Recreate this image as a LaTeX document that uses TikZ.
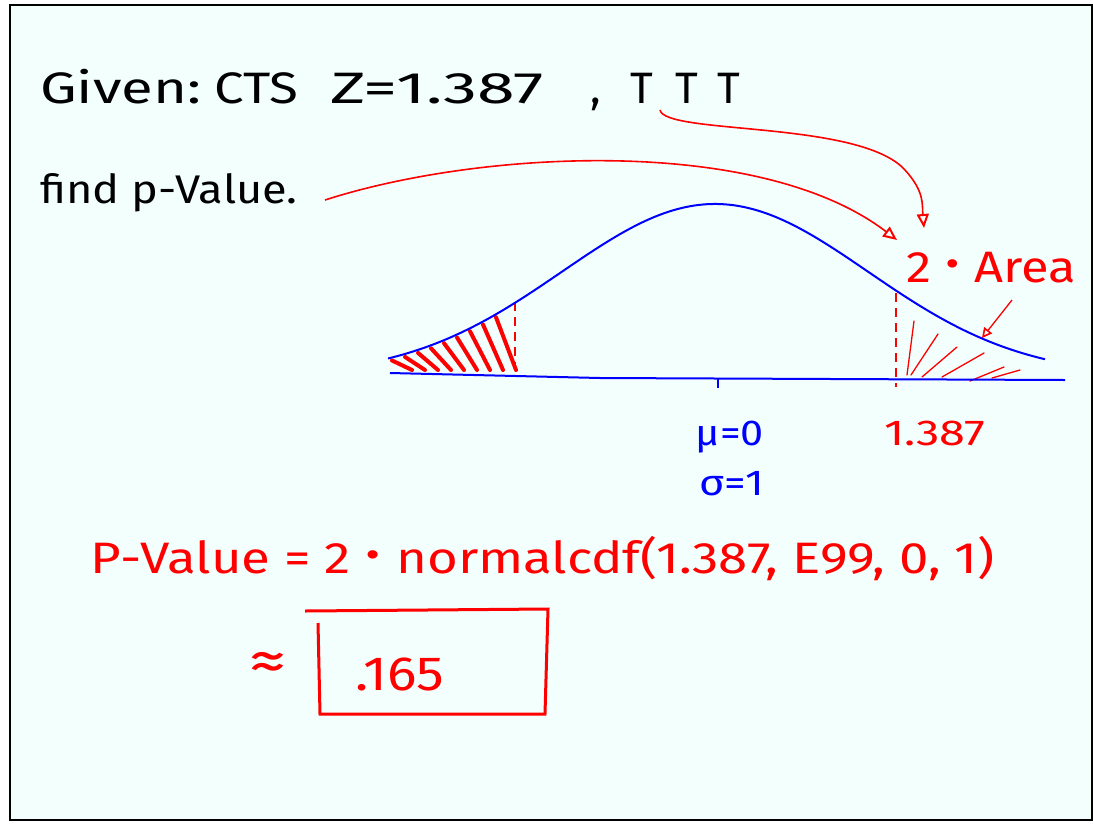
\documentclass[tikz,border=0pt]{standalone}
\usepackage{fontspec}
\setmainfont{Fira Sans}
\usetikzlibrary{arrows.meta}
\definecolor{board}{HTML}{F2FFFD}
\definecolor{pen}{HTML}{FF0000}
\definecolor{bpen}{HTML}{0000FF}
\newcommand{\wide}[2]{\scalebox{#1}[1]{#2}}
\tikzset{
  blk/.style={text=black, inner sep=0pt, font=\fontsize{44}{48}\selectfont},
  rtxt/.style={text=pen, inner sep=0pt, font=\fontsize{44}{48}\selectfont},
  btxt/.style={text=bpen, inner sep=0pt, font=\fontsize{36}{40}\selectfont},
  rarrow/.style={draw=pen, line width=1.6pt, -{Triangle[open,length=14pt,width=12pt,line width=2pt]}},
  hatchL/.style={draw=pen, line width=4pt, line cap=round},
  hatchR/.style={draw=pen, line width=1.3pt, line cap=round},
  bcurve/.style={draw=bpen, line width=2pt},
  dashv/.style={draw=pen, line width=2.8pt, dash pattern=on 9pt off 6pt},
}
\begin{document}
\begin{tikzpicture}[x=1pt,y=-1pt]
\useasboundingbox (0,0) rectangle (1093,823);
\fill[white] (0,0) rectangle (1093,823);
\fill[board] (10,5) rectangle (1092,820);
\draw[black, line width=2pt] (10,5) rectangle (1092,820);

% title text
\node[blk, anchor=base west] (given) at (40,103) {\wide{1.32}{Given:}};
\node[blk, anchor=base west] (cts) at (214,103) {\wide{1.2}{CTS}};
\node[blk, anchor=base west] (z) at (330,103) {\wide{1.55}{Z=1.387}};
\node[blk, anchor=base west] (comma) at (590,103) {,};
\node[blk, anchor=base west] (t1) at (630,103) {T};
\node[blk, anchor=base west] (t2) at (675,103) {T};
\node[blk, anchor=base west] (t3) at (717,103) {T};
\node[blk, anchor=base west, font=\fontsize{40}{44}\selectfont] (find) at (40,203) {\wide{1.13}{find p-Value.}};

% 2 Area label
\node[rtxt, anchor=base west] (area) at (906,282) {\wide{1.15}{2 {\fontsize{60}{60}\selectfont ·} Area}};

% arrows
\coordinate (a1s) at (325,200);
\coordinate (a1e) at (897,240);
\draw[rarrow] (a1s) .. controls (480,150) and (760,135) .. (a1e);
\coordinate (a2s) at (660,110);
\coordinate (a2e) at (924,228);
\draw[rarrow] (a2s) .. controls (665,135) and (860,120) .. (905,170) .. controls (925,192) and (922,205) .. (a2e);
\coordinate (a3s) at (1012,300);
\coordinate (a3e) at (982,338);
\draw[rarrow, line width=1.3pt, -{Triangle[open,length=10pt,width=10pt,line width=1.6pt]}] (a3s) -- (a3e);

% hatching left
\foreach \x in {392,405,...,500} {
  \pgfmathsetmacro\yy{376-172*exp(-((\x-715)/153)^2/2)+3}
  \draw[hatchL] (\x,\yy) -- (\x+20,370);
}
\draw[dashv] (515,302) -- (515,372);

% hatching right
\draw[hatchR] (907,375) -- (914,321);
\draw[hatchR] (911,375) -- (938,334);
\draw[hatchR] (922,377) -- (957,347);
\draw[hatchR] (942,377) -- (984,353);
\draw[hatchR] (970,381) -- (1004,367);
\draw[hatchR] (992,378) -- (1020,370);
\draw[dashv] (896,293) -- (896,387);

% normal curve and axis
\draw[bcurve] plot[domain=388:1045, samples=120, smooth] (\x, {376-172*exp(-((\x-715)/153)^2/2)});
\draw[bcurve] (390,373) -- (600,378) -- (1065,380);
\coordinate (tick) at (718,378);
\draw[bcurve, line width=2.5pt] (tick) -- ++(0,10);

% axis labels
\node[btxt, anchor=base] (mu) at (730,445) {\wide{1.15}{μ=0}};
\node[btxt, anchor=base] (sigma) at (732,495) {\wide{1.2}{σ=1}};
\node[rtxt, anchor=base, font=\fontsize{36}{40}\selectfont] (zval) at (935,445) {\wide{1.3}{1.387}};

% formula
\node[rtxt, anchor=base west] (formula) at (90,573) {\wide{1.2}{P-Value = 2 {\fontsize{60}{60}\selectfont ·} normalcdf(1.387, E99, 0, 1)}};

% answer box
\node[rtxt, anchor=center, font=\fontsize{58}{58}\selectfont] (approx) at (268,666) {\wide{1.3}{≈}};
\node[rtxt, anchor=base, font=\fontsize{48}{52}\selectfont] (ans) at (400,690) {\wide{1.15}{.165}};
\draw[pen, line width=3pt] (305,611) -- (548,609) -- (545,714) -- (320,714) -- (318,623);
\end{tikzpicture}
\end{document}
